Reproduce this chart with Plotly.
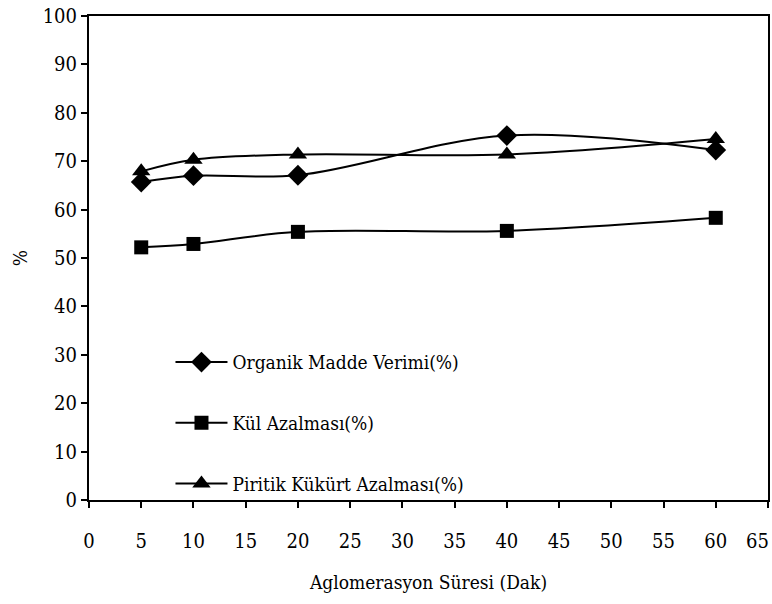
import plotly.graph_objects as go

x_vals = [5, 10, 20, 40, 60]
organik = [65.7, 67.0, 67.1, 75.3, 72.3]
kul = [52.2, 52.9, 55.4, 55.6, 58.3]
piritik = [67.9, 70.3, 71.4, 71.4, 74.6]
x_ticks = list(range(0, 66, 5))
x_ticktext = [str(v) for v in x_ticks]
y_ticks = list(range(0, 101, 10))

series = [
    ("Organik Madde Verimi(%)", organik, "diamond", 16),
    ("Kül Azalması(%)", kul, "square", 14),
    ("Piritik Kükürt Azalması(%)", piritik, "triangle-up", 16),
]

fig = go.Figure()
for i, (name, vals, sym, sz) in enumerate(series):
    fig.add_trace(go.Scatter(
        x=x_vals, y=vals, name=name, mode="lines+markers",
        line=dict(color="black", width=2, shape="spline", smoothing=1.0),
        marker=dict(symbol=sym, size=sz, color="black"),
        legendgroup=f"g{i}",
    ))

FF = "DejaVu Serif Condensed"
# last tick label is placed right-aligned so it stays inside the page
shown_text = x_ticktext[:-1] + [""]
fig.add_annotation(
    x=x_ticks[-1], xref="x", y=0, yref="paper", text=x_ticktext[-1],
    showarrow=False, xanchor="right", yanchor="top", yshift=-27, xshift=3,
    font=dict(size=20, family=FF, color="black"),
)

fig.update_layout(
    width=772, height=604,
    margin=dict(l=89, r=4, t=16, b=104),
    paper_bgcolor="white", plot_bgcolor="white",
    font=dict(family=FF, color="black", size=20),
    showlegend=True,
    legend=dict(
        x=0.12, y=0.324, xanchor="left", yanchor="top",
        font=dict(size=19, family=FF),
        bgcolor="rgba(0,0,0,0)", traceorder="grouped", tracegroupgap=33,
        itemwidth=52,
    ),
    xaxis=dict(
        range=[0, 65], tickvals=x_ticks, ticktext=shown_text, automargin=False,
        showline=True, linecolor="black", linewidth=2, mirror=True,
        ticks="outside", ticklen=6, tickwidth=2, tickcolor="black",
        showgrid=False, zeroline=False,
        tickfont=dict(size=20, family=FF), ticklabelstandoff=16,
        title=dict(text="Aglomerasyon Süresi (Dak)", font=dict(size=19, family=FF), standoff=24),
    ),
    yaxis=dict(
        range=[0, 100], tickvals=y_ticks, automargin=False,
        showline=True, linecolor="black", linewidth=2, mirror=True,
        ticks="outside", ticklen=6, tickwidth=2, tickcolor="black",
        showgrid=False, zeroline=False,
        tickfont=dict(size=20, family=FF),
        title=dict(text="%", font=dict(size=19, family=FF), standoff=10),
    ),
)

fig.write_html("out.html")
